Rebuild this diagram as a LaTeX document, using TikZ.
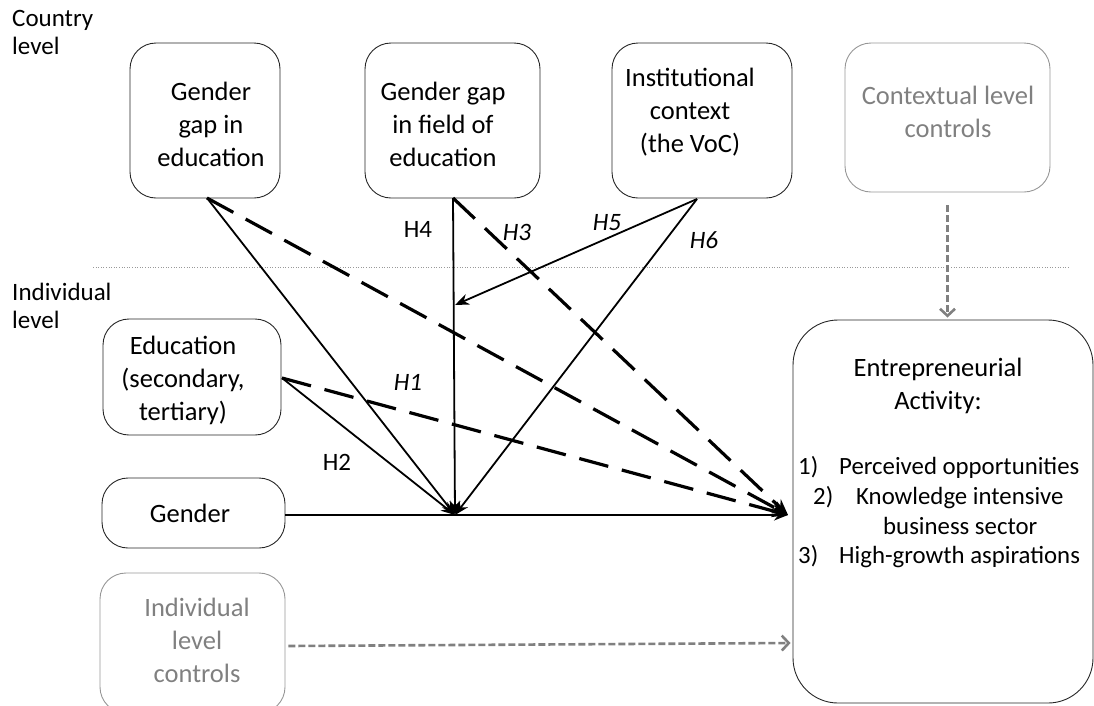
\documentclass[tikz,border=0pt]{standalone}
\usepackage{fontspec}
\setmainfont{Carlito}
\usetikzlibrary{arrows.meta,calc}
\definecolor{ctrlgray}{RGB}{128,128,128}
\definecolor{gborder}{RGB}{150,150,150}
\begin{document}
\begin{tikzpicture}[x=1pt,y=-1pt,
  box/.style={draw=black!85, line width=0.9pt, rounded corners=26pt, inner sep=0pt},
  gbox/.style={box, draw=gborder},
  txt/.style={align=center, font=\fontsize{26.5}{33}\selectfont, inner sep=0pt},
  gtxt/.style={txt, text=ctrlgray},
  itemtxt/.style={anchor=base west, font=\fontsize{24.8}{30}\selectfont, inner sep=0pt},
  lvl/.style={align=left, anchor=north west, font=\fontsize{25}{28}\selectfont, inner sep=0pt},
  hyp/.style={font=\fontsize{25}{28}\selectfont, inner sep=0pt},
  solidarr/.style={line width=1.8pt, -{Stealth[length=14pt,width=11pt]}},
  dasharr/.style={line width=3.2pt, dash pattern=on 30pt off 14pt, -{Stealth[length=16pt,width=13pt]}},
  ctrlarr/.style={draw=ctrlgray, line width=2.6pt, dash pattern=on 7pt off 3pt, -{Straight Barb[length=7pt,width=15pt,line width=2.6pt]}},
  sep/.style={draw=gray!80, line width=0.6pt, dotted}
]
\useasboundingbox (0,0) rectangle (1094,705);

% level labels
\node[lvl] (country) at (12,10) {Country\\level};
\node[lvl] (indiv) at (12,283) {Individual\\level};
\coordinate (sepL) at (93,267);
\coordinate (sepR) at (1070,267);
\draw[sep] (sepL) -- (sepR);

% boxes
\node[box, minimum width=150pt, minimum height=155pt] (gge) at (205,120.5) {};
\node[box, minimum width=175pt, minimum height=155pt] (ggf) at (452.5,120.5) {};
\node[box, minimum width=180pt, minimum height=155pt] (gic) at (702,120.5) {};
\node[gbox, minimum width=205pt, minimum height=149pt] (ctx) at (947.5,117.5) {};
\node[box, minimum width=178pt, minimum height=116pt] (edu) at (192,377) {};
\node[box, minimum width=183pt, minimum height=70pt] (gen) at (193.5,513) {};
\node[gbox, minimum width=185pt, minimum height=140pt] (ilc) at (192.5,643) {};
\node[box, rounded corners=45pt, minimum width=300pt, minimum height=383pt] (ea) at (943,511.5) {};

% texts
\node[txt] (t1) at (211,124) {Gender\\gap in\\education};
\node[txt] (t2) at (443,124) {Gender gap\\in field of\\education};
\node[txt] (t3) at (690,112) {Institutional\\context\\(the VoC)};
\node[gtxt] (t4) at (948,112) {Contextual level\\controls};
\node[txt] (t5) at (183,380) {Education\\(secondary,\\tertiary)};
\node[txt] (t6) at (190,513) {Gender};
\node[gtxt] (t7) at (197,640) {Individual\\level\\controls};
\node[txt] (t8) at (938,386) {Entrepreneurial\\Activity:};
\node[itemtxt] (n1) at (798,474) {1)};
\node[itemtxt] (i1) at (839,474) {Perceived opportunities};
\node[itemtxt] (n2) at (813,504) {2)};
\node[itemtxt] (i2) at (856,504) {Knowledge intensive};
\node[itemtxt] (i2b) at (883,534) {business sector};
\node[itemtxt] (n3) at (798,563) {3)};
\node[itemtxt] (i3) at (839,563) {High-growth aspirations};

% hypothesis labels
\node[hyp] (h4) at (418,229) {H4};
\node[hyp] (h3) at (517,232) {\itshape H3};
\node[hyp] (h5) at (607,223) {\itshape H5};
\node[hyp] (h6) at (704,240) {\itshape H6};
\node[hyp] (h1) at (408,382) {\itshape H1};
\node[hyp] (h2) at (337,462) {H2};

% connection points
\coordinate (hub) at (455,515);
\coordinate (eain) at (788,515);
\coordinate (h5end) at (455,305);
\coordinate (gges) at (207,198);
\coordinate (ggfs) at (453,198);
\coordinate (gics) at (697,199);
\coordinate (edue) at (282,378);
\coordinate (gene) at (285,515);

% solid arrows to hub
\draw[solidarr] (gges) -- (hub);
\draw[solidarr] (ggfs) -- (hub);
\draw[solidarr] (gics) -- (hub);
\draw[solidarr] (edue) -- (hub);
\draw[solidarr] (gics) -- (h5end);
\draw[solidarr] (gene) -- (eain);

% dashed direct arrows
\draw[dasharr] (gges) -- (eain);
\draw[dasharr] (ggfs) -- (eain);
\draw[dasharr] (edue) -- (eain);

% control arrows
\draw[ctrlarr] ([yshift=-13pt]ctx.south) -- ([yshift=2pt]ctx.south |- ea.north);
\draw[ctrlarr] ([xshift=3pt,yshift=-3pt]ilc.east) -- ([xshift=-2pt]ilc.east -| ea.west);
\end{tikzpicture}
\end{document}
